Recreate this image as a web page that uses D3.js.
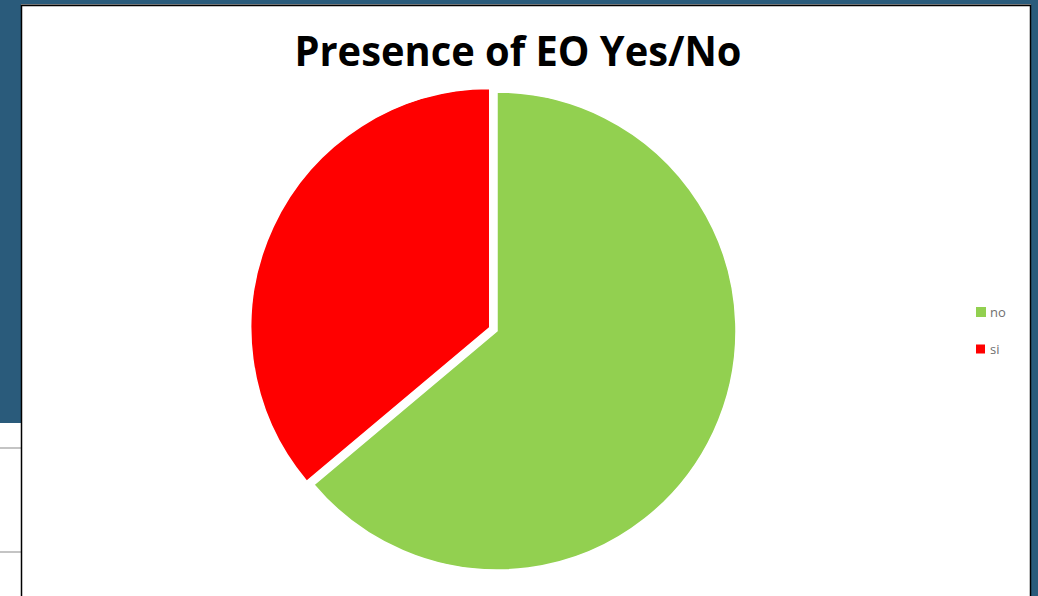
<!DOCTYPE html>
<html>
<head>
<meta charset="utf-8">
<script src="https://cdn.jsdelivr.net/npm/d3@7"></script>
<style>
  html, body { margin: 0; padding: 0; background: #2a5b7b; overflow: hidden; }
  svg { display: block; }
</style>
</head>
<body>
<div id="chart"></div>
<script>
// data
const categories = ["no", "si"];
const values = [23, 13];
const colors = ["#92d050", "#ff0000"];
const title = "Presence of EO Yes/No";

const W = 1038, H = 596;

let svg = d3.select("#chart")
  .append("svg")
  .attr("width", W)
  .attr("height", H);

// slide background behind the chart
svg.append("rect").attr("x", 0).attr("y", 0).attr("width", W).attr("height", H).attr("fill", "#2a5b7b");
svg.append("rect").attr("x", 0).attr("y", 423).attr("width", 22).attr("height", H - 423).attr("fill", "#ffffff");
svg.append("rect").attr("x", 0).attr("y", 447).attr("width", 22).attr("height", 2).attr("fill", "#c4c4c4");
svg.append("rect").attr("x", 0).attr("y", 551).attr("width", 22).attr("height", 2).attr("fill", "#c4c4c4");

// chart area
svg.append("rect").attr("x", 21).attr("y", 4).attr("width", 1010).attr("height", 1).attr("fill", "#9a9a9a");
svg.append("rect")
  .attr("x", 21.5).attr("y", 5.5)
  .attr("width", 1009).attr("height", 600)
  .attr("fill", "#ffffff")
  .attr("stroke", "#000")
  .attr("stroke-width", 1.5);

svg.append("text")
  .attr("x", 518)
  .attr("y", 66)
  .attr("text-anchor", "middle")
  .attr("font-family", "'Open Sans', sans-serif")
  .attr("font-weight", "bold")
  .attr("font-size", "41px")
  .attr("textLength", 447)
  .attr("lengthAdjust", "spacingAndGlyphs")
  .attr("fill", "#000")
  .text(title);

// pie
let cx = 497, cy = 331, radius = 239, explode = 8;

let pie = d3.pie().sort(null).value((d) => d.value);
let arcs = pie(categories.map((c, i) => ({name: c, value: values[i], color: colors[i]})));
let arc = d3.arc().innerRadius(0).outerRadius(radius);

let g = svg.append("g").attr("transform", "translate(" + cx + "," + cy + ")");

g.selectAll("path")
  .data(arcs)
  .enter()
  .append("path")
  .attr("d", arc)
  .attr("fill", (d) => d.data.color)
  .attr("stroke", "#ffffff")
  .attr("stroke-width", 1.5)
  .attr("transform", function (d) {
    if (d.data.name !== "si") return null;
    let a = (d.startAngle + d.endAngle) / 2;
    return "translate(" + (Math.sin(a) * explode) + "," + (-Math.cos(a) * explode) + ")";
  });

// legend
let legend = svg.append("g").attr("transform", "translate(976,312)");
categories.forEach(function (c, i) {
  let size = i === 0 ? 10 : 9;
  legend.append("rect")
    .attr("x", 0)
    .attr("y", i * 37 - size / 2)
    .attr("width", size)
    .attr("height", size)
    .attr("fill", colors[i]);
  legend.append("text")
    .attr("x", 14)
    .attr("y", i * 37)
    .attr("dy", "0.35em")
    .attr("font-family", "'Open Sans', sans-serif")
    .attr("font-size", "13px")
    .attr("fill", "#6f6f6f")
    .text(c);
});
</script>
</body>
</html>
